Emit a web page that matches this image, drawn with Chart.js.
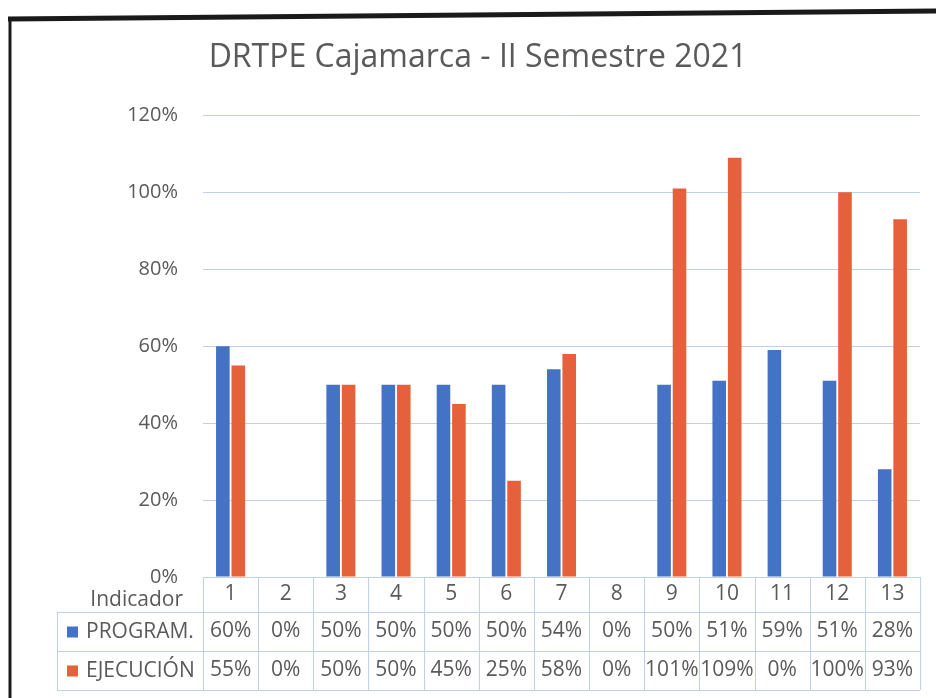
<!DOCTYPE html>
<html>
<head>
<meta charset="utf-8">
<script src="https://cdn.jsdelivr.net/npm/chart.js@4.4.0/dist/chart.umd.min.js"></script>
<style>
  html, body { margin: 0; padding: 0; background: #fff; }
  #wrap { width: 936px; height: 698px; }
</style>
</head>
<body>
<div id="wrap"><canvas id="grafico" width="936" height="698"></canvas></div>
<script>
const indicadores = ['1', '2', '3', '4', '5', '6', '7', '8', '9', '10', '11', '12', '13'];
const programado = [60, 0, 50, 50, 50, 50, 54, 0, 50, 51, 59, 51, 28];
const ejecucion = [55, 0, 50, 50, 45, 25, 58, 0, 101, 109, 0, 100, 93];
const ticksY = [0, 20, 40, 60, 80, 100, 120];

const AZUL = '#4472C4';
const NARANJA = '#E5613B';
const GRIS = '#5a5a5a';
const BORDE = '#bfd1e6';
const FUENTE = '"Open Sans", "Noto Sans", sans-serif';

// marco negro del escaneo
const marcoPlugin = {
    id: 'marco',
    beforeDraw(chart) {
        let ctx = chart.ctx;
        ctx.save();
        ctx.fillStyle = '#fff';
        ctx.fillRect(0, 0, chart.width, chart.height);
        ctx.strokeStyle = '#1a1a1a';
        ctx.lineWidth = 5;
        ctx.beginPath();
        ctx.moveTo(8, 19);
        ctx.lineTo(chart.width, 11);
        ctx.stroke();
        ctx.lineWidth = 3;
        ctx.beginPath();
        ctx.moveTo(10, 18);
        ctx.lineTo(10, chart.height);
        ctx.stroke();
        ctx.restore();
    }
};

// tabla de datos debajo del grafico
const tablaPlugin = {
    id: 'tabla',
    afterDraw(chart) {
        let ctx = chart.ctx;
        let x = chart.scales.x;
        let area = chart.chartArea;
        let paso = x.width / indicadores.length;
        let izq = 57;
        let filas = [area.bottom, area.bottom + 35, area.bottom + 74, area.bottom + 113];

        ctx.save();
        ctx.strokeStyle = BORDE;
        ctx.lineWidth = 1;
        ctx.beginPath();
        ctx.moveTo(x.left, filas[0] + 0.5);
        ctx.lineTo(x.right, filas[0] + 0.5);
        for (let i = 1; i < filas.length; i++) {
            ctx.moveTo(izq, filas[i] + 0.5);
            ctx.lineTo(x.right, filas[i] + 0.5);
        }
        ctx.moveTo(izq + 0.5, filas[1]);
        ctx.lineTo(izq + 0.5, filas[3]);
        for (let i = 0; i <= indicadores.length; i++) {
            let px = Math.round(x.left + i * paso) + 0.5;
            ctx.moveTo(px, filas[0]);
            ctx.lineTo(px, filas[3]);
        }
        ctx.stroke();

        ctx.fillStyle = GRIS;
        ctx.font = '21px ' + FUENTE;
        ctx.textBaseline = 'middle';
        ctx.textAlign = 'center';
        let cy = [(filas[0] + filas[1]) / 2, (filas[1] + filas[2]) / 2, (filas[2] + filas[3]) / 2];
        indicadores.forEach((ind, i) => {
            let cx = x.getPixelForValue(i);
            ctx.fillText(ind, cx, cy[0]);
            ctx.fillText(programado[i] + '%', cx, cy[1]);
            ctx.fillText(ejecucion[i] + '%', cx, cy[2]);
        });

        ctx.textAlign = 'right';
        ctx.fillText('Indicador', 183, cy[0] + 6);

        ctx.textAlign = 'left';
        [['PROGRAM.', AZUL], ['EJECUCIÓN', NARANJA]].forEach((s, i) => {
            ctx.fillStyle = s[1];
            ctx.fillRect(67, cy[i + 1] - 5, 11, 11);
            ctx.fillStyle = GRIS;
            ctx.fillText(s[0], 86, cy[i + 1] + 1);
        });
        ctx.restore();
    }
};

new Chart(document.getElementById('grafico'), {
    type: 'bar',
    data: {
        labels: indicadores,
        datasets: [{
            label: 'PROGRAM.',
            data: programado,
            backgroundColor: AZUL,
            categoryPercentage: 0.56,
            barPercentage: 0.88
        }, {
            label: 'EJECUCIÓN',
            data: ejecucion,
            backgroundColor: NARANJA,
            categoryPercentage: 0.56,
            barPercentage: 0.88
        }]
    },
    options: {
        responsive: false,
        animation: false,
        layout: {padding: {left: 36, right: 16, top: 0, bottom: 121}},
        plugins: {
            legend: {display: false},
            tooltip: {enabled: false},
            title: {
                display: true,
                text: 'DRTPE Cajamarca - II Semestre 2021',
                color: GRIS,
                font: {family: FUENTE, size: 32, weight: 'normal'},
                padding: {top: 39, bottom: 38}
            }
        },
        scales: {
            x: {display: false},
            y: {
                min: 0,
                max: 120,
                afterBuildTicks(scale) {
                    scale.ticks = ticksY.map(v => ({value: v}));
                },
                afterFit(scale) {
                    scale.width = 167;
                },
                border: {display: false},
                grid: {color: BORDE, drawTicks: false},
                ticks: {
                    padding: 25,
                    color: GRIS,
                    font: {family: FUENTE, size: 20},
                    callback: (v) => v + '%'
                }
            }
        }
    },
    plugins: [marcoPlugin, tablaPlugin]
});
</script>
</body>
</html>
